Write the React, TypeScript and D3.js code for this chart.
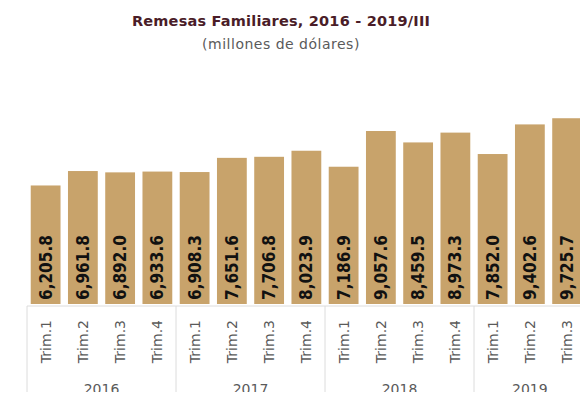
import { useMemo } from "react";
import * as d3 from "d3";

const WIDTH = 588;
const HEIGHT = 400;

const YEARS = ["2016", "2017", "2018", "2019"];
const QUARTERS = ["Trim.1", "Trim.2", "Trim.3", "Trim.4"];
const PERIODS = [
  "2016-1", "2016-2", "2016-3", "2016-4",
  "2017-1", "2017-2", "2017-3", "2017-4",
  "2018-1", "2018-2", "2018-3", "2018-4",
  "2019-1", "2019-2", "2019-3",
];
const VALUES = [
  6205.8, 6961.8, 6892.0, 6933.6,
  6908.3, 7651.6, 7706.8, 8023.9,
  7186.9, 9057.6, 8459.5, 8973.3,
  7852.0, 9402.6, 9725.7,
];

const BAR_COLOR = "#c8a36b";
const FRAME_COLOR = "#dcdcdc";
const TEXT_GRAY = "#5a5a5a";

export default function App() {
  const left = 27;
  const step = 37.25;
  const right = left + step * PERIODS.length;
  const baseY = 304;
  const axisY = 306;

  const x = useMemo(
    () => d3.scaleBand().domain(PERIODS).range([left, right]).paddingInner(0.2).paddingOuter(0.1),
    [right]
  );
  const y = useMemo(() => d3.scaleLinear().domain([0, 10000]).range([baseY, 113]), []);
  const fmt = d3.format(",.1f");

  // year group boundaries
  const groupEdges = YEARS.map((yr, i) => {
    const first = PERIODS.indexOf(`${yr}-1`);
    const x0 = left + first * step;
    const x1 = i === YEARS.length - 1 ? right : left + (first + 4) * step;
    return { yr, x0, x1 };
  });

  return (
    <div style={{ margin: -8 }}>
      <svg width={WIDTH} height={HEIGHT} style={{ display: "block", background: "#fff" }}>
        <text x={281} y={26} textAnchor="middle" fontFamily="'DejaVu Sans', sans-serif"
          fontWeight={700} fontSize={14.5} letterSpacing={0.2} fill="#4a1d28">
          Remesas Familiares, 2016 - 2019/III
        </text>
        <text x={281} y={49} textAnchor="middle" fontFamily="'DejaVu Sans', sans-serif"
          fontSize={14} letterSpacing={0.5} fill={TEXT_GRAY}>
          (millones de dólares)
        </text>

        {PERIODS.map((p, i) => (
          <rect key={p} x={x(p)} y={y(VALUES[i])} width={x.bandwidth()}
            height={y(0) - y(VALUES[i])} fill={BAR_COLOR} />
        ))}

        {PERIODS.map((p, i) => {
          const cx = (x(p) ?? 0) + x.bandwidth() / 2;
          return (
            <text key={`v${p}`} transform={`translate(${cx},${baseY - 4}) rotate(-90)`}
              dominantBaseline="central" fontFamily="'DejaVu Sans Condensed', 'DejaVu Sans', sans-serif"
              fontStretch="condensed" fontWeight={700} fontSize={17} fill="#111">
              {fmt(VALUES[i])}
            </text>
          );
        })}

        {/* category frame */}
        <line x1={left} x2={right} y1={axisY} y2={axisY} stroke={FRAME_COLOR} />
        {groupEdges.map((g) => (
          <line key={`l${g.yr}`} x1={g.x0} x2={g.x0} y1={axisY} y2={HEIGHT} stroke={FRAME_COLOR} />
        ))}
        <line x1={right} x2={right} y1={axisY} y2={HEIGHT} stroke={FRAME_COLOR} />

        {PERIODS.map((p) => {
          const cx = (x(p) ?? 0) + x.bandwidth() / 2;
          const q = QUARTERS[+p.split("-")[1] - 1];
          return (
            <text key={`q${p}`} transform={`translate(${cx},320) rotate(-90)`}
              textAnchor="end" dominantBaseline="central" fontFamily="'DejaVu Sans', sans-serif"
              fontSize={14} fill={TEXT_GRAY}>
              {q}
            </text>
          );
        })}

        {groupEdges.map((g) => (
          <text key={`y${g.yr}`} x={(g.x0 + g.x1) / 2} y={394} textAnchor="middle"
            fontFamily="'DejaVu Sans', sans-serif" fontSize={14} fill={TEXT_GRAY}>
            {g.yr}
          </text>
        ))}
      </svg>
    </div>
  );
}
